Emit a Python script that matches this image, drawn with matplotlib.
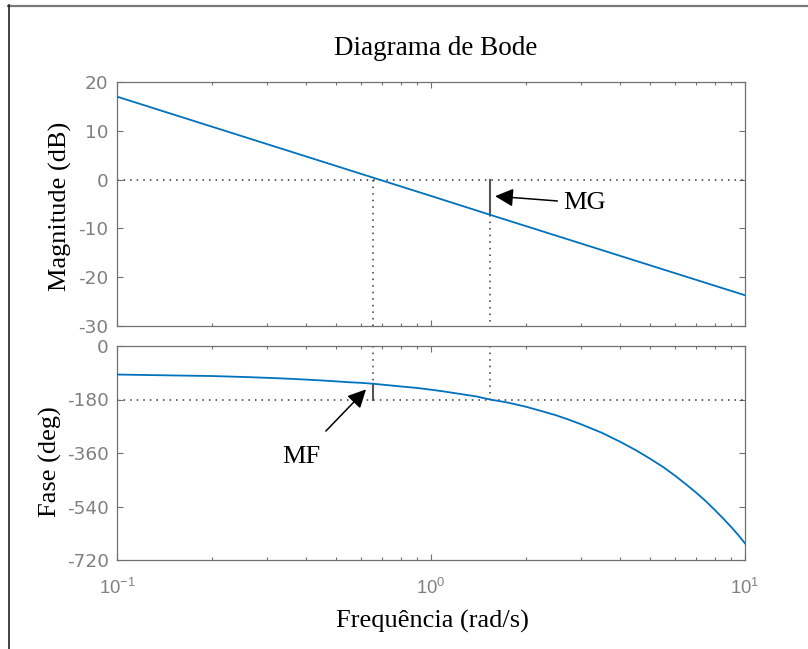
import matplotlib
matplotlib.use("Agg")
import matplotlib.pyplot as plt
from matplotlib.lines import Line2D

# values
freq_mag = [0.1, 0.654, 1.0, 1.54, 10.0]
mag_db = [17.0, 0.4, -3.35, -7.2, -23.7]

freq_phase = [0.1, 0.15, 0.2, 0.25, 0.3, 0.35, 0.4, 0.45, 0.5, 0.55, 0.6, 0.654,
              0.7, 0.8, 0.9, 1.0, 1.1, 1.25, 1.4, 1.54, 1.75, 2.0, 2.25, 2.5,
              2.75, 3.0, 3.5, 4.0, 4.5, 5.0, 5.5, 6.0, 6.5, 7.0, 7.5, 8.0,
              8.5, 9.0, 9.5, 10.0]
phase_deg = [-96, -99, -101, -104, -107, -110, -113, -116, -119, -122, -124, -127,
             -130, -136, -141, -147, -153, -162, -170, -180, -190, -204, -219, -233,
             -248, -263, -292, -322, -351, -380, -408, -437, -466, -494, -522, -551,
             -579, -607, -635, -664]

w_cross = 0.654      # gain crossover (rad/s)
w_180 = 1.54         # phase crossover (rad/s)
phase_at_wc = -127
mag_at_w180 = -7.2

mag_ticks = [20, 10, 0, -10, -20, -30]
phase_ticks = [0, -180, -360, -540, -720]

plt.rcParams["mathtext.fontset"] = "custom"
plt.rcParams["mathtext.rm"] = "Liberation Sans"
plt.rcParams["mathtext.it"] = "Liberation Sans:italic"
plt.rcParams["axes.unicode_minus"] = False

blue = "#0072BD"
spine_col = "#707070"
tick_col = "#808080"
dot_col = "#333333"
serif = "Liberation Serif"

W, H = 808, 649
fig = plt.figure(figsize=(W / 100, H / 100), dpi=100)

def fx(px):
    return px / W

def fy(py):
    return 1 - py / H

ax1 = fig.add_axes([fx(117), fy(326), fx(745) - fx(117), fy(82) - fy(326)])
ax2 = fig.add_axes([fx(117), fy(560), fx(745) - fx(117), fy(346) - fy(560)])

for ax in (ax1, ax2):
    ax.set_xscale("log")
    ax.set_xlim(0.1, 10)
    for s in ax.spines.values():
        s.set_color(spine_col)
        s.set_linewidth(0.9)
    ax.tick_params(which="both", direction="in", top=True, right=True,
                   colors=spine_col, labelcolor=tick_col, labelsize=13.3,
                   width=0.8)
    ax.tick_params(which="major", length=4.5)
    ax.tick_params(which="minor", length=2.3)
    ax.tick_params(axis="y", pad=6)

dots = (0, (1, 3.3))

# magnitude
ax1.plot(freq_mag, mag_db, color=blue, lw=1.3, zorder=3)
ax1.set_ylim(-30, 20)
ax1.set_yticks(mag_ticks)
ax1.tick_params(axis="x", which="both", labelbottom=False)
ax1.plot([0.1, 10], [0, 0], color=dot_col, lw=1.1, linestyle=dots)
ax1.plot([w_cross, w_cross], [0, -30], color=dot_col, lw=1.1, linestyle=dots)
ax1.plot([w_180, w_180], [mag_at_w180, -30], color=dot_col, lw=1.1, linestyle=dots)
ax1.plot([w_180, w_180], [0, mag_at_w180], color="#555555", lw=1.5)
ax1.annotate("MG", xy=(1.60, -3.4), xytext=(2.63, -4.8),
             fontsize=19, family=serif, va="center", ha="left",
             arrowprops=dict(arrowstyle="-|>,head_length=0.5,head_width=0.25",
                             color="black", lw=1.1,
                             mutation_scale=22, shrinkA=2, shrinkB=0))
ax1.set_ylabel("Magnitude (dB)", fontsize=19, family=serif)
ax1.yaxis.set_label_coords(-0.072, 0.489)

# phase
ax2.plot(freq_phase, phase_deg, color=blue, lw=1.3, zorder=3)
ax2.set_ylim(-720, 0)
ax2.set_yticks(phase_ticks)
ax2.plot([0.1, 10], [-180, -180], color=dot_col, lw=1.1, linestyle=dots)
ax2.plot([w_cross, w_cross], [0, phase_at_wc], color=dot_col, lw=1.1, linestyle=dots)
ax2.plot([w_180, w_180], [0, -180], color=dot_col, lw=1.1, linestyle=dots)
ax2.plot([w_cross, w_cross], [phase_at_wc, -180], color="#555555", lw=1.5)
ax2.annotate("MF", xy=(0.621, -146), xytext=(0.3855, -373),
             fontsize=19, family=serif, va="center", ha="center",
             arrowprops=dict(arrowstyle="-|>,head_length=0.5,head_width=0.25",
                             color="black", lw=1.1,
                             mutation_scale=22, shrinkA=12, shrinkB=0))
ax2.set_xticks([0.1, 1, 10])
ax2.set_xticklabels([r"$10^{-1}$", r"$10^{0}$", r"$10^{1}$"])
ax2.tick_params(axis="x", pad=13)
ax2.set_ylabel("Fase (deg)", fontsize=19, family=serif)
ax2.yaxis.set_label_coords(-0.0876, 0.459)
ax2.set_xlabel("Frequência (rad/s)", fontsize=19, family=serif)
ax2.xaxis.set_label_coords(0.502, -0.235)

fig.text(fx(436), fy(55), "Diagrama de Bode", fontsize=19.5, family=serif,
         ha="center", va="baseline")

# frame around the picture
fig.add_artist(Line2D([fx(8), 1], [fy(5.5), fy(5.5)], color="#777777", lw=1.6))
fig.add_artist(Line2D([fx(8.5), fx(8.5)], [fy(5), 0], color="#222222", lw=1.2))

fig.savefig("out.png", dpi=100)
